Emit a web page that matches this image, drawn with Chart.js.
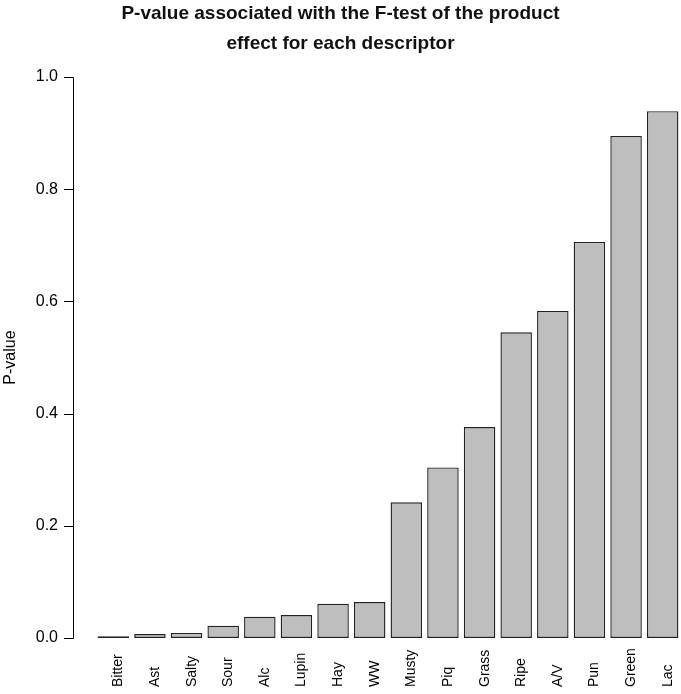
<!DOCTYPE html>
<html>
<head>
<meta charset="utf-8">
<script src="https://cdn.jsdelivr.net/npm/chart.js@4/dist/chart.umd.min.js"></script>
<style>
  body { margin: 0; background: #fff; }
</style>
</head>
<body>
<canvas id="pvalor-grafica" width="681" height="694"></canvas>
<script>
// descriptores ordenados por p-valor
const descriptores = ['Bitter', 'Ast', 'Salty', 'Sour', 'Alc', 'Lupin', 'Hay', 'WW',
  'Musty', 'Piq', 'Grass', 'Ripe', 'A/V', 'Pun', 'Green', 'Lac'];
const pvalores = [0.003, 0.007, 0.009, 0.022, 0.038, 0.041, 0.061, 0.064,
  0.242, 0.304, 0.376, 0.545, 0.583, 0.706, 0.895, 0.939];
const marcasY = [0, 0.2, 0.4, 0.6, 0.8, 1.0];

(function(){
  const ctx = document.getElementById('pvalor-grafica');

  // eje Y al estilo R: linea separada de las barras
  const ejeR = {
    id: 'ejeR',
    afterDraw(chart){
      const y = chart.scales.y;
      const x = chart.scales.x;
      const c = chart.ctx;
      c.save();
      c.strokeStyle = '#000';
      c.lineWidth = 1;
      c.beginPath();
      c.moveTo(73.5, Math.round(y.getPixelForValue(marcasY[0])) + 0.5);
      c.lineTo(73.5, Math.round(y.getPixelForValue(marcasY[marcasY.length - 1])) + 0.5);
      marcasY.forEach(v => {
        const py = Math.round(y.getPixelForValue(v)) + 0.5;
        c.moveTo(64, py);
        c.lineTo(73.5, py);
      });
      c.stroke();

      // etiquetas del eje x giradas
      c.fillStyle = '#000';
      c.font = '14px "Liberation Sans", Arial, sans-serif';
      c.textAlign = 'left';
      c.textBaseline = 'alphabetic';
      descriptores.forEach((nombre, i) => {
        c.save();
        c.translate(x.getPixelForValue(i) + 9, 687);
        c.rotate(-Math.PI / 2);
        c.fillText(nombre, 0, 0);
        c.restore();
      });
      c.restore();
    }
  };

  new Chart(ctx, {
    type: 'bar',
    data: {
      labels: descriptores,
      datasets: [{
        label: 'P-value',
        data: pvalores,
        backgroundColor: '#bebebe',
        borderColor: '#222',
        borderWidth: 1.4,
        borderSkipped: false,
        barPercentage: 0.86,
        categoryPercentage: 1
      }]
    },
    options: {
      responsive: false,
      animation: false,
      layout: { padding: 0 },
      scales: {
        x: {
          grid: { display: false },
          border: { display: false },
          ticks: { display: false },
          afterFit(scale){ scale.height = 56; }
        },
        y: {
          min: 0,
          max: 1,
          grid: { display: false, drawTicks: false },
          border: { display: false },
          ticks: {
            stepSize: 0.2,
            padding: 37,
            color: '#000',
            font: { family: '"Liberation Sans", Arial, sans-serif', size: 16 },
            callback: v => v.toFixed(1)
          },
          title: {
            display: true,
            text: 'P-value',
            color: '#000',
            padding: { top: 1, bottom: 0 },
            font: { family: '"Liberation Sans", Arial, sans-serif', size: 16 }
          },
          afterFit(scale){ scale.width = 95; }
        }
      },
      plugins: {
        legend: { display: false },
        tooltip: { enabled: false },
        title: {
          display: true,
          text: ['P-value associated with the F-test of the product', 'effect for each descriptor'],
          color: '#111',
          padding: { top: -1, bottom: 18 },
          font: { family: '"Liberation Sans", Arial, sans-serif', size: 19, weight: 'bold', lineHeight: '30px' }
        }
      }
    },
    plugins: [ejeR]
  });
})();
</script>
</body>
</html>
